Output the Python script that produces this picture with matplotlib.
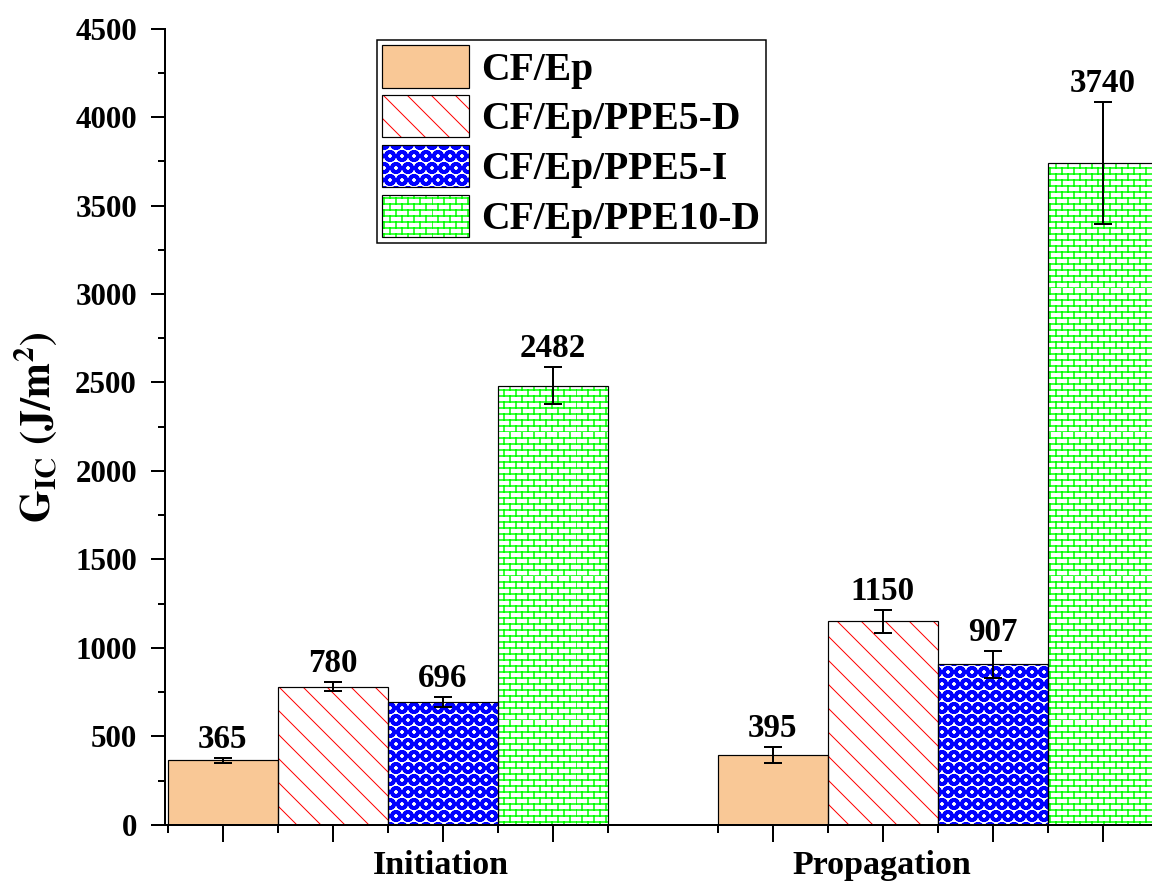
import warnings
import numpy as np
import matplotlib
matplotlib.use('Agg')
import matplotlib.pyplot as plt
from matplotlib import hatch as mhatch
from matplotlib.path import Path
from matplotlib.patches import Patch
from matplotlib.ticker import MultipleLocator

warnings.filterwarnings('ignore')

# fracture toughness G_IC (J/m^2), initiation and propagation
stages = ['Initiation', 'Propagation']
series = ['CF/Ep', 'CF/Ep/PPE5-D', 'CF/Ep/PPE5-I', 'CF/Ep/PPE10-D']

cf_ep = [365, 395]
ppe5_d = [780, 1150]
ppe5_i = [696, 907]
ppe10_d = [2482, 3740]

cf_ep_err = [15, 45]
ppe5_d_err = [25, 65]
ppe5_i_err = [28, 77]
ppe10_d_err = [105, 343]

values = [cf_ep, ppe5_d, ppe5_i, ppe10_d]
errors = [cf_ep_err, ppe5_d_err, ppe5_i_err, ppe10_d_err]


class BrickHatch(mhatch.HatchPatternBase):
    # brick wall: 'b' in the hatch string, staggered vertical joints
    def __init__(self, hatch, density):
        self.rows = hatch.count('b') * density * 4
        self.cols = self.rows // 2
        self.num_vertices = (self.rows + self.rows * self.cols) * 2

    def set_vertices_and_codes(self, vertices, codes):
        h = 1.0 / self.rows
        w = 1.0 / self.cols
        segs = []
        for r in range(self.rows):
            y0 = r * h
            segs.append(((0, y0), (1, y0)))
            shift = 0.5 * w if r % 2 else 0.0
            for c in range(self.cols):
                xv = c * w + shift
                segs.append(((xv, y0), (xv, y0 + h)))
        vertices[:] = np.array(segs).reshape(-1, 2)
        codes[0::2] = Path.MOVETO
        codes[1::2] = Path.LINETO


mhatch._hatch_types.append(BrickHatch)

# face colour, hatch, hatch colour, hatch linewidth
styles = [
    ('#F9C896', None, '#F9C896', 0.5),
    ('white', '\\\\', '#FF0000', 0.5),
    ('white', 'OO', '#0000FF', 1.8),
    ('white', 'b', '#00FF00', 0.75),
]
hatch_lw = {s[1]: s[3] for s in styles if s[1]}

DPI = 144
plt.rcParams['font.family'] = ['Liberation Serif', 'DejaVu Serif']
plt.rcParams['font.weight'] = 'bold'
plt.rcParams['mathtext.fontset'] = 'stix'

fig = plt.figure(figsize=(1152 / DPI, 886 / DPI), dpi=DPI)
ax = fig.add_axes([0.1432, 0.0689, 0.864, 0.8989])

x = np.arange(1, len(stages) + 1)
width = 0.2


def set_hlw(p, hlw):
    if hasattr(p, 'set_hatch_linewidth'):
        p.set_hatch_linewidth(hlw)


def hatched_bar(xs, vals, face, hatch, hcol, hlw):
    with plt.rc_context({'hatch.linewidth': hlw}):
        bars = ax.bar(xs, vals, width, color=face, edgecolor=hcol,
                      hatch=hatch, linewidth=0, zorder=2)
    for b in bars:
        set_hlw(b, hlw)
    ax.bar(xs, vals, width, fill=False, edgecolor='black', linewidth=0.6, zorder=3)


handles = []
for i, (vals, errs) in enumerate(zip(values, errors)):
    face, hatch, hcol, hlw = styles[i]
    xs = x + (i - 1.5) * width
    hatched_bar(xs, vals, face, hatch, hcol, hlw)
    ax.errorbar(xs, vals, yerr=errs, fmt='none', ecolor='black',
                elinewidth=1, capsize=4.5, capthick=1, zorder=4)
    for xv, v, e in zip(xs, vals, errs):
        ax.annotate(str(v), (xv, v + e), xytext=(0, 1.5), textcoords='offset points',
                    ha='center', va='bottom', fontsize=16.5, fontweight='bold')

    h1 = Patch(facecolor=face, edgecolor=hcol, hatch=hatch, linewidth=0)
    h2 = Patch(fill=False, edgecolor='black', linewidth=0.6)
    handles.append((h1, h2))

ax.set_xlim(0.595, 2.405)
ax.set_ylim(0, 4500)

centers = np.concatenate([x + (i - 1.5) * width for i in range(4)])
edges = np.concatenate([x + (i - 2) * width for i in range(5)])
ax.set_xticks(np.sort(centers))
ax.set_xticklabels([])
ax.set_xticks(np.sort(edges), minor=True)
ax.yaxis.set_major_locator(MultipleLocator(500))
ax.yaxis.set_minor_locator(MultipleLocator(250))

ax.tick_params(axis='both', which='both', direction='out', width=1)
ax.tick_params(axis='y', which='major', length=7, labelsize=15.5, pad=7)
ax.tick_params(axis='y', which='minor', length=3.5)
ax.tick_params(axis='x', which='major', length=8.5)
ax.tick_params(axis='x', which='minor', length=4)

for s in ['top', 'right']:
    ax.spines[s].set_visible(False)
for s in ['left', 'bottom']:
    ax.spines[s].set_linewidth(1)

# group labels sit a bit off the group centre, as in the original
for xpos, name in zip([1.096, 1.898], stages):
    ax.annotate(name, (xpos, 0), xycoords=('data', 'axes fraction'),
                xytext=(0, -20.5), textcoords='offset points',
                ha='center', va='center', fontsize=17, fontweight='bold')

ax.set_ylabel(r'$\mathbf{G_{IC}\ (J/m^{2})}$', fontsize=21, labelpad=8)

leg = fig.legend(handles, series, loc='upper left', bbox_to_anchor=(0.327, 0.955),
                 bbox_transform=fig.transFigure, fontsize=19.8, handlelength=2.2,
                 handleheight=1.26, handletextpad=0.3, labelspacing=0.16,
                 borderpad=0.14, borderaxespad=0, fancybox=False,
                 edgecolor='black', framealpha=1)
leg.get_frame().set_linewidth(0.75)
# legend copies of the patches lose the per-patch hatch width
for p in leg.findobj(lambda a: isinstance(a, Patch) and a.get_hatch()):
    set_hlw(p, hatch_lw.get(p.get_hatch(), 1.0))

fig.savefig('out.png', dpi=DPI)
